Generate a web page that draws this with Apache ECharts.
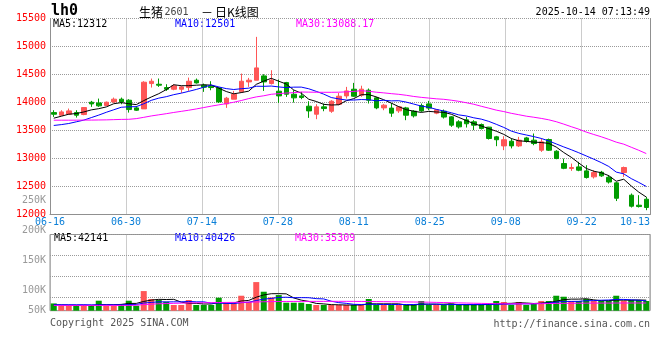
<!DOCTYPE html>
<html><head><meta charset="utf-8">
<script src="https://cdn.jsdelivr.net/npm/echarts@6.0.0/dist/echarts.min.js"></script>
<style>html,body{margin:0;padding:0;background:#fff}#c{width:660px;height:360px}</style>
</head><body><div id="c"></div>
<script>
const dates = ['06-16','06-17','06-18','06-19','06-20','06-23','06-24','06-25','06-26','06-27',
'06-30','07-01','07-02','07-03','07-04','07-07','07-08','07-09','07-10','07-11',
'07-14','07-15','07-16','07-17','07-18','07-21','07-22','07-23','07-24','07-25',
'07-28','07-29','07-30','07-31','08-01','08-04','08-05','08-06','08-07','08-08',
'08-11','08-12','08-13','08-14','08-15','08-18','08-19','08-20','08-21','08-22',
'08-25','08-26','08-27','08-28','08-29','09-01','09-02','09-03','09-04','09-05',
'09-08','09-09','09-10','09-11','09-12','09-15','09-16','09-17','09-18','09-19',
'09-22','09-23','09-24','09-25','09-26','09-29','09-30','10-09','10-10','10-13'];

const open = [13820,13773,13791,13820,13785,14005,13993,13946,14011,14059,
14041,13904,13886,14338,14326,14267,14237,14237,14267,14398,
14309,14291,14261,13975,14059,14190,14368,14398,14475,14338,
14202,14356,14148,14118,13934,13791,13922,13844,13969,14118,
14237,14131,14220,14083,13904,13900,13851,13904,13845,13945,
13975,13810,13845,13744,13655,13690,13655,13607,13560,13387,
13225,13309,13225,13368,13327,13148,13339,13130,12910,12821,
12850,12779,12672,12755,12665,12565,12750,12345,12166,12273];

const close = [13791,13832,13850,13773,13910,13975,13940,14005,14059,14011,
13874,13862,14362,14380,14309,14237,14297,14279,14380,14350,
14273,14267,14011,14077,14148,14380,14398,14618,14368,14398,
14118,14148,14083,14089,13850,13922,13892,14023,14112,14207,
14112,14238,14041,13904,13952,13810,13922,13773,13762,13850,
13900,13870,13740,13595,13565,13620,13595,13535,13357,13335,
13335,13225,13327,13309,13267,13297,13148,12999,12825,12839,
12791,12660,12749,12690,12580,12290,12839,12148,12142,12125];

const low = [13743,13773,13791,13731,13773,13922,13922,13946,13993,13969,
13820,13850,13886,14267,14279,14207,14219,14172,14207,14338,
14190,14219,13993,13904,14059,14172,14279,14398,14207,14321,
13993,14100,13999,14059,13726,13702,13844,13815,13952,14071,
14100,14101,13982,13880,13862,13744,13815,13684,13732,13833,
13863,13791,13714,13565,13535,13553,13506,13518,13339,13220,
13149,13180,13205,13285,13237,13118,13136,12987,12809,12779,
12773,12642,12642,12672,12553,12240,12672,12125,12125,12077];

const high = [13862,13862,13892,13862,13910,14029,14070,14017,14088,14088,
14059,13934,14380,14428,14428,14326,14326,14291,14445,14428,
14338,14380,14279,14100,14207,14517,14440,15172,14505,14576,
14410,14368,14219,14190,14023,13969,13981,14041,14172,14279,
14350,14300,14250,14101,13975,13990,13934,13922,13863,13982,
14029,13880,13875,13756,13684,13744,13684,13625,13565,13404,
13398,13357,13386,13386,13446,13356,13356,13148,12999,12910,
12940,12880,12791,12779,12702,12583,12856,12375,12345,12315];

const ma5 = [13720,13755,13791,13803,13831,13868,13890,13921,13978,13998,
13978,13962,14034,14098,14157,14230,14317,14300,14300,14309,
14316,14310,14256,14196,14155,14177,14203,14324,14382,14432,
14380,14330,14223,14167,14058,14018,13967,13955,13960,14031,
14069,14138,14142,14100,14049,13989,13926,13872,13844,13823,
13841,13831,13824,13791,13734,13678,13623,13582,13534,13488,
13431,13357,13316,13306,13293,13285,13270,13204,13107,13022,
12920,12823,12773,12746,12694,12594,12630,12509,12400,12312];

const ma10 = [13590,13605,13625,13655,13685,13730,13775,13825,13870,13915,
13923,13926,13977,14038,14078,14104,14140,14167,14199,14233,
14273,14313,14278,14248,14232,14246,14256,14290,14289,14294,
14278,14266,14274,14275,14245,14199,14149,14089,14064,14044,
14044,14053,14049,14030,14040,14029,14032,14007,13972,13936,
13915,13878,13848,13817,13779,13760,13727,13703,13663,13611,
13555,13490,13449,13420,13391,13358,13314,13260,13207,13157,
13103,13046,12988,12927,12858,12757,12726,12641,12573,12501];

const ma30 = [13684,13684,13684,13684,13686,13686,13688,13690,13694,13698,
13700,13712,13735,13760,13780,13800,13822,13842,13862,13885,
13910,13935,13958,13980,14005,14035,14070,14100,14120,14147,
14158,14169,14176,14187,14185,14183,14182,14182,14184,14190,
14198,14211,14200,14184,14172,14158,14146,14129,14108,14092,
14079,14066,14057,14041,14021,13996,13969,13933,13899,13864,
13838,13807,13782,13756,13737,13716,13691,13657,13614,13568,
13524,13472,13429,13388,13342,13292,13256,13201,13147,13088.17];

const volume = [34300,28800,28800,28800,28800,28800,40800,28800,28800,32900,
40800,28800,64000,44900,42500,38400,30500,30500,42500,30500,
30500,30500,48000,34300,34300,52800,38400,85600,62400,48700,
54400,36000,36000,36000,32900,30500,30500,30500,30500,30500,
30500,30500,44900,30500,30500,30500,30500,30500,30500,40100,
30500,30500,30500,34300,30500,30500,30500,30500,34300,40100,
37700,30500,37700,30500,34300,40100,40100,52800,50400,40100,
40100,44900,40100,40100,40100,52800,40100,42500,42500,40100];

const volMa5 = [30500,30500,30000,29500,29900,28800,31200,31200,31200,31900,
34300,34300,39100,42200,44100,43700,44100,37400,34500,34500,
32900,32900,36500,34800,35500,40100,41500,49200,54700,57600,
57800,57300,47500,42200,39100,34300,33100,31400,31000,30500,
30500,30500,33300,33300,33300,33300,33300,30500,30500,32400,
32400,32400,32400,33100,31200,31200,31200,31200,31900,33100,
34300,34500,36000,35300,34100,35000,36500,39600,43400,44600,
44600,45600,42900,41000,41000,42400,42000,42300,42600,42141];

const volMa10 = [31200,31200,31200,31200,31200,31000,31000,31000,31000,31000,
31700,31700,35300,36700,38100,37900,38100,38100,39100,38100,
38100,34800,35300,34300,33800,36200,37000,41300,44600,46300,
48700,49200,48000,48200,48000,45800,45100,39600,36200,34500,
32100,31700,32400,31900,31700,31700,31700,31700,31700,32600,
32600,32600,31200,31700,31700,31700,31700,31700,31900,31900,
32600,32600,33300,33100,33300,34300,35300,37400,39100,39100,
39300,40800,41000,42000,42500,43900,43900,42900,42000,40426];

const volMa30 = [29500,29500,29500,29500,29500,29500,29500,29500,29500,29500,
29500,30000,31500,32500,33500,34000,34500,35000,35500,35800,
36000,36200,36500,36700,36800,37000,37200,37800,38300,38600,
38900,39000,39100,39200,39200,39200,39200,39300,39300,39300,
39200,39000,38900,38700,38500,38300,38100,37900,37700,37500,
37200,36800,36400,36000,35600,35200,34800,34400,34000,33700,
33600,33500,33500,33500,33600,33800,34000,34300,34500,34700,
34800,34900,35000,35100,35100,35200,35200,35300,35300,35309];

const xTickIndex = [0,10,20,30,40,50,60,70,79];
const xTickLabels = ['06-16','06-30','07-14','07-28','08-11','08-25','09-08','09-22','10-13'];
const volTickValues = [50000,100000,150000,200000,250000];
const volTickLabels = ['50K','100K','150K','200K','250K'];

const RED = '#ff5656', GREEN = '#009c00';
const MONO = '"DejaVu Sans Mono", monospace';
const CJK = '"Noto Sans CJK SC", sans-serif';
const GRIDLINE = {show:true, lineStyle:{color:'#9a9a9a', type:[1,1], width:1}};
const last = a => a[a.length-1];

const chart = echarts.init(document.getElementById('c'), null, {renderer:'canvas'});
const candleData = open.map((o,i)=>[o, close[i], low[i], high[i]]);
const volData = volume.map((v,i)=>({value:v, itemStyle:{color: close[i]>=open[i]?RED:GREEN}}));

function maLine(name, data, color, xi, yi){
  return {type:'line', name, data, xAxisIndex:xi, yAxisIndex:yi, symbol:'none', silent:true,
    lineStyle:{color, width:1}, itemStyle:{color}, z:5};
}
function txt(text, x, y, fill, opts){
  return {type:'text', x, y, silent:true, style:Object.assign({text, fill, font:'10px '+MONO, verticalAlign:'middle', align:'left'}, opts||{})};
}

chart.setOption({
  animation:false,
  backgroundColor:'#fff',
  grid:[
    {left:50, top:18.5, width:600, height:196},
    {left:50, top:234.5, width:600, height:76.2, show:true, borderColor:'#909090', borderWidth:1},
    {left:50, top:200.7, width:600, height:119.8}
  ],
  xAxis:[
    {type:'category', gridIndex:0, position:'top', data:dates, boundaryGap:true, show:false},
    {type:'value', gridIndex:0, position:'bottom', min:0, max:79, interval:10,
      axisLine:{show:true, onZero:false, lineStyle:{color:'#909090'}}, axisTick:{show:false},
      splitLine:GRIDLINE,
      axisLabel:{color:'#0a7fd8', fontFamily:MONO, fontSize:10, margin:3, showMinLabel:true, showMaxLabel:true, alignMaxLabel:'right',
        formatter:v=>{const i=xTickIndex.indexOf(Math.round(v)); return i>=0?xTickLabels[i]:'';}}},
    {type:'category', gridIndex:1, position:'top', data:dates, boundaryGap:true, show:false},
    {type:'value', gridIndex:1, position:'bottom', min:0, max:79, interval:10,
      axisLine:{show:false}, axisTick:{show:false}, axisLabel:{show:false}, splitLine:GRIDLINE},
    {type:'value', gridIndex:2, min:0, max:1, show:false}
  ],
  yAxis:[
    {type:'value', gridIndex:0, position:'left', min:12000, max:15500, interval:500,
      axisLine:{show:true, lineStyle:{color:'#909090'}}, axisTick:{show:false}, splitLine:GRIDLINE,
      axisLabel:{color:'#ff0000', fontFamily:MONO, fontSize:10, margin:4, padding:[0,0,4,0], formatter:v=>String(v)}},
    {type:'value', gridIndex:0, position:'right', min:12000, max:15500,
      axisLine:{show:true, lineStyle:{color:'#909090'}}, axisTick:{show:false}, axisLabel:{show:false}, splitLine:{show:false}},
    {type:'value', gridIndex:1, min:16800, max:200000, splitNumber:4,
      axisLine:{show:false}, axisTick:{show:false}, axisLabel:{show:false}, splitLine:GRIDLINE},
    {type:'value', gridIndex:2, min:50000, max:250000, interval:50000,
      axisLine:{show:false}, axisTick:{show:false}, splitLine:{show:false},
      axisLabel:{color:'#999', fontFamily:MONO, fontSize:10, margin:4,
        formatter:v=>{const i=volTickValues.indexOf(v); if(i<0) return ''; return i===0?'{lift|'+volTickLabels[i]+'}':volTickLabels[i];},
        rich:{lift:{color:'#999', fontFamily:MONO, fontSize:10, padding:[0,0,21,0]}}}}
  ],
  series:[
    {type:'candlestick', xAxisIndex:0, yAxisIndex:0, data:candleData, barWidth:5, silent:true,
      itemStyle:{color:RED, color0:GREEN, borderColor:RED, borderColor0:GREEN, borderWidth:1}},
    maLine('MA5', ma5, '#000000', 0, 0),
    maLine('MA10', ma10, '#0000ff', 0, 0),
    maLine('MA30', ma30, '#ff00ff', 0, 0),
    {type:'bar', xAxisIndex:2, yAxisIndex:2, data:volData, barWidth:6, silent:true},
    maLine('VMA5', volMa5, '#000000', 2, 2),
    maLine('VMA10', volMa10, '#0000ff', 2, 2),
    maLine('VMA30', volMa30, '#ff00ff', 2, 2)
  ],
  graphic:[
    txt('lh0', 51, 11.5, '#000', {font:'bold 15px '+MONO}),
    txt('生猪', 139, 12, '#000', {font:'12px '+CJK}),
    txt('2601', 164.5, 12, '#444', {font:'10px '+MONO}),
    txt('－', 201, 12, '#000', {font:'12px '+CJK}),
    txt('日K线图', 215, 12, '#000', {font:'12px '+CJK}),
    txt('2025-10-14 07:13:49', 650, 12, '#000', {align:'right'}),
    txt('MA5:'+last(ma5), 53, 24, '#000'),
    txt('MA10:'+last(ma10), 175, 24, '#0000ff'),
    txt('MA30:'+last(ma30), 296, 24, '#ff00ff'),
    txt('MA5:'+last(volMa5), 54, 238, '#000'),
    txt('MA10:'+last(volMa10), 175, 238, '#0000ff'),
    txt('MA30:'+last(volMa30), 295, 238, '#ff00ff'),
    txt('Copyright 2025 SINA.COM', 50, 323, '#555'),
    txt('http://finance.sina.com.cn', 650, 324, '#555', {align:'right'})
  ]
});
</script></body></html>
